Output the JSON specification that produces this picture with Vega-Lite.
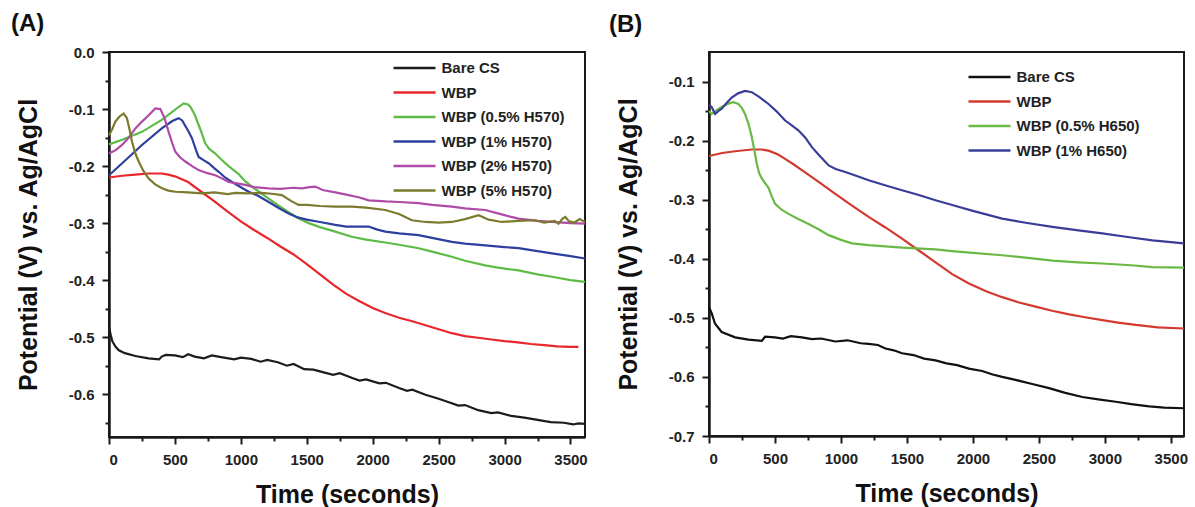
{
  "$schema": "https://vega.github.io/schema/vega-lite/v6.json",
  "padding": {"left": 10, "top": 11, "right": 10, "bottom": 2},
  "bounds": "flush",
  "spacing": 124,
  "background": "white",
  "config": {
    "font": "Liberation Sans",
    "view": {"stroke": "#1a1a1a", "strokeWidth": 2},
    "axis": {
      "grid": false,
      "domainColor": "#1a1a1a", "domainWidth": 2.5,
      "tickColor": "#1a1a1a", "tickWidth": 2,
      "labelFont": "Liberation Sans", "labelFontSize": 15, "labelFontWeight": "bold", "labelColor": "#222",
      "titleFont": "Liberation Sans", "titleFontSize": 25, "titleFontWeight": "bold", "titleColor": "#111",
      "labelPadding": 8
    },
    "legend": {
      "orient": "none", "title": null, "symbolType": "M-2,0H2", "symbolSize": 441, "symbolStrokeWidth": 2.5,
      "symbolOffset": 10.5,
      "labelFont": "Liberation Sans", "labelFontSize": 15, "labelFontWeight": "bold", "labelColor": "#222",
      "labelOffset": 15, "rowPadding": 4.5, "padding": 0, "symbolOpacity": 1
    },
    "title": {"font": "Liberation Sans", "fontSize": 24, "fontWeight": "bold", "color": "#111", "anchor": "start", "frame": "group"}
  },
  "resolve": {"scale": {"color": "independent", "x": "independent", "y": "independent"}, "legend": {"color": "independent"}},
  "hconcat": [
    {
      "width": 476, "height": 385,
      "title": {"text": "(A)", "dx": -98, "offset": 9},
      "data": {"values": [
        {"s":"Bare CS","t":0,"v":-0.482},{"s":"Bare CS","t":12,"v":-0.495},{"s":"Bare CS","t":25,"v":-0.507},{"s":"Bare CS","t":50,"v":-0.517},{"s":"Bare CS","t":75,"v":-0.523},{"s":"Bare CS","t":120,"v":-0.528},{"s":"Bare CS","t":200,"v":-0.533},{"s":"Bare CS","t":300,"v":-0.537},{"s":"Bare CS","t":380,"v":-0.539},{"s":"Bare CS","t":400,"v":-0.534},{"s":"Bare CS","t":430,"v":-0.531},{"s":"Bare CS","t":500,"v":-0.532},{"s":"Bare CS","t":560,"v":-0.535},{"s":"Bare CS","t":600,"v":-0.530},{"s":"Bare CS","t":650,"v":-0.534},{"s":"Bare CS","t":720,"v":-0.537},{"s":"Bare CS","t":780,"v":-0.532},{"s":"Bare CS","t":850,"v":-0.535},{"s":"Bare CS","t":950,"v":-0.539},{"s":"Bare CS","t":1000,"v":-0.536},{"s":"Bare CS","t":1080,"v":-0.538},{"s":"Bare CS","t":1150,"v":-0.543},{"s":"Bare CS","t":1200,"v":-0.540},{"s":"Bare CS","t":1280,"v":-0.544},{"s":"Bare CS","t":1350,"v":-0.550},{"s":"Bare CS","t":1400,"v":-0.547},{"s":"Bare CS","t":1480,"v":-0.556},{"s":"Bare CS","t":1550,"v":-0.557},{"s":"Bare CS","t":1600,"v":-0.560},{"s":"Bare CS","t":1700,"v":-0.566},{"s":"Bare CS","t":1750,"v":-0.563},{"s":"Bare CS","t":1850,"v":-0.572},{"s":"Bare CS","t":1900,"v":-0.576},{"s":"Bare CS","t":1950,"v":-0.574},{"s":"Bare CS","t":2050,"v":-0.581},{"s":"Bare CS","t":2100,"v":-0.580},{"s":"Bare CS","t":2200,"v":-0.589},{"s":"Bare CS","t":2260,"v":-0.594},{"s":"Bare CS","t":2300,"v":-0.592},{"s":"Bare CS","t":2400,"v":-0.601},{"s":"Bare CS","t":2500,"v":-0.608},{"s":"Bare CS","t":2550,"v":-0.612},{"s":"Bare CS","t":2650,"v":-0.620},{"s":"Bare CS","t":2700,"v":-0.619},{"s":"Bare CS","t":2800,"v":-0.628},{"s":"Bare CS","t":2900,"v":-0.633},{"s":"Bare CS","t":2950,"v":-0.632},{"s":"Bare CS","t":3050,"v":-0.638},{"s":"Bare CS","t":3150,"v":-0.641},{"s":"Bare CS","t":3250,"v":-0.645},{"s":"Bare CS","t":3350,"v":-0.649},{"s":"Bare CS","t":3450,"v":-0.650},{"s":"Bare CS","t":3520,"v":-0.653},{"s":"Bare CS","t":3560,"v":-0.651},{"s":"Bare CS","t":3610,"v":-0.652},
        {"s":"WBP","t":0,"v":-0.220},{"s":"WBP","t":100,"v":-0.217},{"s":"WBP","t":200,"v":-0.215},{"s":"WBP","t":300,"v":-0.213},{"s":"WBP","t":400,"v":-0.213},{"s":"WBP","t":450,"v":-0.215},{"s":"WBP","t":500,"v":-0.218},{"s":"WBP","t":600,"v":-0.228},{"s":"WBP","t":700,"v":-0.245},{"s":"WBP","t":800,"v":-0.262},{"s":"WBP","t":900,"v":-0.280},{"s":"WBP","t":1000,"v":-0.297},{"s":"WBP","t":1100,"v":-0.312},{"s":"WBP","t":1200,"v":-0.326},{"s":"WBP","t":1300,"v":-0.341},{"s":"WBP","t":1400,"v":-0.355},{"s":"WBP","t":1500,"v":-0.372},{"s":"WBP","t":1600,"v":-0.390},{"s":"WBP","t":1700,"v":-0.408},{"s":"WBP","t":1800,"v":-0.424},{"s":"WBP","t":1900,"v":-0.437},{"s":"WBP","t":2000,"v":-0.449},{"s":"WBP","t":2100,"v":-0.458},{"s":"WBP","t":2200,"v":-0.466},{"s":"WBP","t":2300,"v":-0.472},{"s":"WBP","t":2400,"v":-0.479},{"s":"WBP","t":2500,"v":-0.486},{"s":"WBP","t":2600,"v":-0.493},{"s":"WBP","t":2700,"v":-0.498},{"s":"WBP","t":2800,"v":-0.501},{"s":"WBP","t":2900,"v":-0.504},{"s":"WBP","t":3000,"v":-0.507},{"s":"WBP","t":3100,"v":-0.509},{"s":"WBP","t":3200,"v":-0.512},{"s":"WBP","t":3300,"v":-0.514},{"s":"WBP","t":3400,"v":-0.516},{"s":"WBP","t":3500,"v":-0.517},{"s":"WBP","t":3560,"v":-0.517},
        {"s":"WBP (0.5% H570)","t":0,"v":-0.162},{"s":"WBP (0.5% H570)","t":100,"v":-0.154},{"s":"WBP (0.5% H570)","t":250,"v":-0.140},{"s":"WBP (0.5% H570)","t":400,"v":-0.119},{"s":"WBP (0.5% H570)","t":480,"v":-0.105},{"s":"WBP (0.5% H570)","t":530,"v":-0.096},{"s":"WBP (0.5% H570)","t":566,"v":-0.090},{"s":"WBP (0.5% H570)","t":600,"v":-0.092},{"s":"WBP (0.5% H570)","t":620,"v":-0.097},{"s":"WBP (0.5% H570)","t":650,"v":-0.110},{"s":"WBP (0.5% H570)","t":680,"v":-0.128},{"s":"WBP (0.5% H570)","t":700,"v":-0.140},{"s":"WBP (0.5% H570)","t":730,"v":-0.160},{"s":"WBP (0.5% H570)","t":760,"v":-0.170},{"s":"WBP (0.5% H570)","t":806,"v":-0.178},{"s":"WBP (0.5% H570)","t":850,"v":-0.188},{"s":"WBP (0.5% H570)","t":907,"v":-0.200},{"s":"WBP (0.5% H570)","t":950,"v":-0.208},{"s":"WBP (0.5% H570)","t":983,"v":-0.214},{"s":"WBP (0.5% H570)","t":1030,"v":-0.226},{"s":"WBP (0.5% H570)","t":1084,"v":-0.236},{"s":"WBP (0.5% H570)","t":1150,"v":-0.247},{"s":"WBP (0.5% H570)","t":1211,"v":-0.257},{"s":"WBP (0.5% H570)","t":1290,"v":-0.270},{"s":"WBP (0.5% H570)","t":1362,"v":-0.281},{"s":"WBP (0.5% H570)","t":1440,"v":-0.292},{"s":"WBP (0.5% H570)","t":1514,"v":-0.300},{"s":"WBP (0.5% H570)","t":1600,"v":-0.307},{"s":"WBP (0.5% H570)","t":1716,"v":-0.315},{"s":"WBP (0.5% H570)","t":1842,"v":-0.324},{"s":"WBP (0.5% H570)","t":1950,"v":-0.329},{"s":"WBP (0.5% H570)","t":2095,"v":-0.334},{"s":"WBP (0.5% H570)","t":2200,"v":-0.338},{"s":"WBP (0.5% H570)","t":2348,"v":-0.344},{"s":"WBP (0.5% H570)","t":2450,"v":-0.350},{"s":"WBP (0.5% H570)","t":2600,"v":-0.359},{"s":"WBP (0.5% H570)","t":2700,"v":-0.366},{"s":"WBP (0.5% H570)","t":2853,"v":-0.374},{"s":"WBP (0.5% H570)","t":2950,"v":-0.378},{"s":"WBP (0.5% H570)","t":3106,"v":-0.383},{"s":"WBP (0.5% H570)","t":3250,"v":-0.390},{"s":"WBP (0.5% H570)","t":3359,"v":-0.394},{"s":"WBP (0.5% H570)","t":3500,"v":-0.400},{"s":"WBP (0.5% H570)","t":3610,"v":-0.403},
        {"s":"WBP (1% H570)","t":0,"v":-0.216},{"s":"WBP (1% H570)","t":100,"v":-0.195},{"s":"WBP (1% H570)","t":250,"v":-0.163},{"s":"WBP (1% H570)","t":400,"v":-0.134},{"s":"WBP (1% H570)","t":480,"v":-0.121},{"s":"WBP (1% H570)","t":528,"v":-0.116},{"s":"WBP (1% H570)","t":555,"v":-0.120},{"s":"WBP (1% H570)","t":600,"v":-0.138},{"s":"WBP (1% H570)","t":629,"v":-0.151},{"s":"WBP (1% H570)","t":660,"v":-0.172},{"s":"WBP (1% H570)","t":680,"v":-0.184},{"s":"WBP (1% H570)","t":720,"v":-0.190},{"s":"WBP (1% H570)","t":756,"v":-0.195},{"s":"WBP (1% H570)","t":800,"v":-0.204},{"s":"WBP (1% H570)","t":832,"v":-0.210},{"s":"WBP (1% H570)","t":880,"v":-0.220},{"s":"WBP (1% H570)","t":933,"v":-0.228},{"s":"WBP (1% H570)","t":1000,"v":-0.237},{"s":"WBP (1% H570)","t":1059,"v":-0.245},{"s":"WBP (1% H570)","t":1130,"v":-0.252},{"s":"WBP (1% H570)","t":1211,"v":-0.263},{"s":"WBP (1% H570)","t":1290,"v":-0.274},{"s":"WBP (1% H570)","t":1362,"v":-0.283},{"s":"WBP (1% H570)","t":1430,"v":-0.290},{"s":"WBP (1% H570)","t":1500,"v":-0.294},{"s":"WBP (1% H570)","t":1600,"v":-0.298},{"s":"WBP (1% H570)","t":1716,"v":-0.303},{"s":"WBP (1% H570)","t":1800,"v":-0.306},{"s":"WBP (1% H570)","t":1969,"v":-0.306},{"s":"WBP (1% H570)","t":2030,"v":-0.311},{"s":"WBP (1% H570)","t":2095,"v":-0.315},{"s":"WBP (1% H570)","t":2200,"v":-0.318},{"s":"WBP (1% H570)","t":2348,"v":-0.321},{"s":"WBP (1% H570)","t":2450,"v":-0.326},{"s":"WBP (1% H570)","t":2600,"v":-0.333},{"s":"WBP (1% H570)","t":2700,"v":-0.336},{"s":"WBP (1% H570)","t":2853,"v":-0.339},{"s":"WBP (1% H570)","t":3000,"v":-0.342},{"s":"WBP (1% H570)","t":3106,"v":-0.344},{"s":"WBP (1% H570)","t":3250,"v":-0.349},{"s":"WBP (1% H570)","t":3359,"v":-0.353},{"s":"WBP (1% H570)","t":3500,"v":-0.358},{"s":"WBP (1% H570)","t":3610,"v":-0.362},
        {"s":"WBP (2% H570)","t":0,"v":-0.178},{"s":"WBP (2% H570)","t":50,"v":-0.172},{"s":"WBP (2% H570)","t":99,"v":-0.163},{"s":"WBP (2% H570)","t":150,"v":-0.150},{"s":"WBP (2% H570)","t":200,"v":-0.134},{"s":"WBP (2% H570)","t":250,"v":-0.122},{"s":"WBP (2% H570)","t":301,"v":-0.111},{"s":"WBP (2% H570)","t":351,"v":-0.099},{"s":"WBP (2% H570)","t":389,"v":-0.100},{"s":"WBP (2% H570)","t":420,"v":-0.115},{"s":"WBP (2% H570)","t":452,"v":-0.140},{"s":"WBP (2% H570)","t":480,"v":-0.160},{"s":"WBP (2% H570)","t":503,"v":-0.175},{"s":"WBP (2% H570)","t":540,"v":-0.185},{"s":"WBP (2% H570)","t":579,"v":-0.192},{"s":"WBP (2% H570)","t":630,"v":-0.200},{"s":"WBP (2% H570)","t":680,"v":-0.207},{"s":"WBP (2% H570)","t":740,"v":-0.212},{"s":"WBP (2% H570)","t":806,"v":-0.216},{"s":"WBP (2% H570)","t":860,"v":-0.222},{"s":"WBP (2% H570)","t":907,"v":-0.228},{"s":"WBP (2% H570)","t":960,"v":-0.230},{"s":"WBP (2% H570)","t":1034,"v":-0.233},{"s":"WBP (2% H570)","t":1100,"v":-0.237},{"s":"WBP (2% H570)","t":1211,"v":-0.239},{"s":"WBP (2% H570)","t":1300,"v":-0.240},{"s":"WBP (2% H570)","t":1400,"v":-0.238},{"s":"WBP (2% H570)","t":1463,"v":-0.239},{"s":"WBP (2% H570)","t":1520,"v":-0.237},{"s":"WBP (2% H570)","t":1564,"v":-0.236},{"s":"WBP (2% H570)","t":1620,"v":-0.242},{"s":"WBP (2% H570)","t":1716,"v":-0.246},{"s":"WBP (2% H570)","t":1800,"v":-0.250},{"s":"WBP (2% H570)","t":1900,"v":-0.255},{"s":"WBP (2% H570)","t":1969,"v":-0.260},{"s":"WBP (2% H570)","t":2100,"v":-0.262},{"s":"WBP (2% H570)","t":2200,"v":-0.263},{"s":"WBP (2% H570)","t":2348,"v":-0.265},{"s":"WBP (2% H570)","t":2450,"v":-0.268},{"s":"WBP (2% H570)","t":2600,"v":-0.271},{"s":"WBP (2% H570)","t":2700,"v":-0.274},{"s":"WBP (2% H570)","t":2853,"v":-0.277},{"s":"WBP (2% H570)","t":2950,"v":-0.283},{"s":"WBP (2% H570)","t":3050,"v":-0.289},{"s":"WBP (2% H570)","t":3106,"v":-0.292},{"s":"WBP (2% H570)","t":3250,"v":-0.296},{"s":"WBP (2% H570)","t":3359,"v":-0.298},{"s":"WBP (2% H570)","t":3500,"v":-0.300},{"s":"WBP (2% H570)","t":3610,"v":-0.301},
        {"s":"WBP (5% H570)","t":0,"v":-0.146},{"s":"WBP (5% H570)","t":25,"v":-0.135},{"s":"WBP (5% H570)","t":48,"v":-0.122},{"s":"WBP (5% H570)","t":80,"v":-0.113},{"s":"WBP (5% H570)","t":111,"v":-0.108},{"s":"WBP (5% H570)","t":136,"v":-0.116},{"s":"WBP (5% H570)","t":155,"v":-0.135},{"s":"WBP (5% H570)","t":174,"v":-0.157},{"s":"WBP (5% H570)","t":200,"v":-0.178},{"s":"WBP (5% H570)","t":225,"v":-0.192},{"s":"WBP (5% H570)","t":260,"v":-0.208},{"s":"WBP (5% H570)","t":301,"v":-0.222},{"s":"WBP (5% H570)","t":350,"v":-0.232},{"s":"WBP (5% H570)","t":402,"v":-0.239},{"s":"WBP (5% H570)","t":450,"v":-0.243},{"s":"WBP (5% H570)","t":503,"v":-0.245},{"s":"WBP (5% H570)","t":600,"v":-0.246},{"s":"WBP (5% H570)","t":705,"v":-0.248},{"s":"WBP (5% H570)","t":800,"v":-0.246},{"s":"WBP (5% H570)","t":900,"v":-0.249},{"s":"WBP (5% H570)","t":958,"v":-0.247},{"s":"WBP (5% H570)","t":1050,"v":-0.248},{"s":"WBP (5% H570)","t":1160,"v":-0.247},{"s":"WBP (5% H570)","t":1250,"v":-0.249},{"s":"WBP (5% H570)","t":1311,"v":-0.251},{"s":"WBP (5% H570)","t":1380,"v":-0.261},{"s":"WBP (5% H570)","t":1438,"v":-0.268},{"s":"WBP (5% H570)","t":1500,"v":-0.268},{"s":"WBP (5% H570)","t":1600,"v":-0.270},{"s":"WBP (5% H570)","t":1716,"v":-0.271},{"s":"WBP (5% H570)","t":1842,"v":-0.271},{"s":"WBP (5% H570)","t":1950,"v":-0.273},{"s":"WBP (5% H570)","t":2095,"v":-0.277},{"s":"WBP (5% H570)","t":2200,"v":-0.284},{"s":"WBP (5% H570)","t":2297,"v":-0.295},{"s":"WBP (5% H570)","t":2400,"v":-0.298},{"s":"WBP (5% H570)","t":2500,"v":-0.299},{"s":"WBP (5% H570)","t":2600,"v":-0.298},{"s":"WBP (5% H570)","t":2700,"v":-0.293},{"s":"WBP (5% H570)","t":2803,"v":-0.286},{"s":"WBP (5% H570)","t":2880,"v":-0.294},{"s":"WBP (5% H570)","t":2980,"v":-0.298},{"s":"WBP (5% H570)","t":3100,"v":-0.296},{"s":"WBP (5% H570)","t":3232,"v":-0.295},{"s":"WBP (5% H570)","t":3300,"v":-0.299},{"s":"WBP (5% H570)","t":3380,"v":-0.296},{"s":"WBP (5% H570)","t":3409,"v":-0.301},{"s":"WBP (5% H570)","t":3440,"v":-0.292},{"s":"WBP (5% H570)","t":3460,"v":-0.289},{"s":"WBP (5% H570)","t":3490,"v":-0.297},{"s":"WBP (5% H570)","t":3530,"v":-0.299},{"s":"WBP (5% H570)","t":3570,"v":-0.293},{"s":"WBP (5% H570)","t":3610,"v":-0.298}
      ]},
      "mark": {"type": "line", "strokeWidth": 2.2},
      "encoding": {
        "x": {"field": "t", "type": "quantitative", "scale": {"domain": [0, 3610], "nice": false, "zero": false},
          "axis": {"title": "Time (seconds)", "titlePadding": 15,
            "values": [0,250,500,750,1000,1250,1500,1750,2000,2250,2500,2750,3000,3250,3500],
            "labelExpr": "datum.value % 500 == 0 ? datum.value + '' : ''",
            "tickSize": {"condition": {"test": "datum.value % 500 == 0", "value": 7}, "value": 4}}},
        "y": {"field": "v", "type": "quantitative", "scale": {"domain": [-0.675, 0], "nice": false, "zero": false},
          "axis": {"title": "Potential (V) vs. Ag/AgCl", "titlePadding": 27,
            "values": [-0.65,-0.6,-0.55,-0.5,-0.45,-0.4,-0.35,-0.3,-0.25,-0.2,-0.15,-0.1,-0.05,0],
            "labelExpr": "abs(datum.value*10 - round(datum.value*10)) < 0.001 ? replace(format(datum.value, '.1f'), '\u2212', '-') : ''",
            "tickSize": {"condition": {"test": "abs(datum.value*10 - round(datum.value*10)) < 0.001", "value": 7}, "value": 4}}},
        "color": {"field": "s", "type": "nominal",
          "scale": {"domain": ["Bare CS","WBP","WBP (0.5% H570)","WBP (1% H570)","WBP (2% H570)","WBP (5% H570)"],
                    "range": ["#1c1c1c","#e8262b","#5dbb46","#2e3f9e","#b04aa8","#7b7a2e"]},
          "legend": {"legendX": 283, "legendY": 4}},
        "order": {"field": "t", "type": "quantitative"}
      }
    },
    {
      "width": 475, "height": 384,
      "title": {"text": "(B)", "dx": -100, "offset": 15},
      "data": {"values": [
        {"s":"Bare CS","t":0,"v":-0.482},{"s":"Bare CS","t":20,"v":-0.492},{"s":"Bare CS","t":46,"v":-0.510},{"s":"Bare CS","t":96,"v":-0.524},{"s":"Bare CS","t":198,"v":-0.533},{"s":"Bare CS","t":300,"v":-0.537},{"s":"Bare CS","t":400,"v":-0.539},{"s":"Bare CS","t":425,"v":-0.532},{"s":"Bare CS","t":500,"v":-0.533},{"s":"Bare CS","t":560,"v":-0.535},{"s":"Bare CS","t":620,"v":-0.531},{"s":"Bare CS","t":704,"v":-0.533},{"s":"Bare CS","t":780,"v":-0.536},{"s":"Bare CS","t":850,"v":-0.535},{"s":"Bare CS","t":957,"v":-0.540},{"s":"Bare CS","t":1050,"v":-0.538},{"s":"Bare CS","t":1150,"v":-0.543},{"s":"Bare CS","t":1210,"v":-0.544},{"s":"Bare CS","t":1280,"v":-0.546},{"s":"Bare CS","t":1337,"v":-0.552},{"s":"Bare CS","t":1400,"v":-0.555},{"s":"Bare CS","t":1463,"v":-0.560},{"s":"Bare CS","t":1550,"v":-0.563},{"s":"Bare CS","t":1630,"v":-0.569},{"s":"Bare CS","t":1717,"v":-0.572},{"s":"Bare CS","t":1800,"v":-0.577},{"s":"Bare CS","t":1880,"v":-0.580},{"s":"Bare CS","t":1970,"v":-0.586},{"s":"Bare CS","t":2070,"v":-0.590},{"s":"Bare CS","t":2150,"v":-0.596},{"s":"Bare CS","t":2222,"v":-0.600},{"s":"Bare CS","t":2323,"v":-0.605},{"s":"Bare CS","t":2450,"v":-0.612},{"s":"Bare CS","t":2577,"v":-0.619},{"s":"Bare CS","t":2700,"v":-0.627},{"s":"Bare CS","t":2830,"v":-0.634},{"s":"Bare CS","t":2950,"v":-0.638},{"s":"Bare CS","t":3083,"v":-0.642},{"s":"Bare CS","t":3200,"v":-0.646},{"s":"Bare CS","t":3336,"v":-0.650},{"s":"Bare CS","t":3450,"v":-0.652},{"s":"Bare CS","t":3600,"v":-0.653},
        {"s":"WBP","t":0,"v":-0.226},{"s":"WBP","t":100,"v":-0.221},{"s":"WBP","t":197,"v":-0.218},{"s":"WBP","t":324,"v":-0.215},{"s":"WBP","t":400,"v":-0.215},{"s":"WBP","t":451,"v":-0.217},{"s":"WBP","t":520,"v":-0.223},{"s":"WBP","t":577,"v":-0.231},{"s":"WBP","t":640,"v":-0.240},{"s":"WBP","t":704,"v":-0.250},{"s":"WBP","t":831,"v":-0.270},{"s":"WBP","t":957,"v":-0.290},{"s":"WBP","t":1084,"v":-0.310},{"s":"WBP","t":1210,"v":-0.329},{"s":"WBP","t":1337,"v":-0.347},{"s":"WBP","t":1463,"v":-0.366},{"s":"WBP","t":1590,"v":-0.386},{"s":"WBP","t":1717,"v":-0.406},{"s":"WBP","t":1843,"v":-0.426},{"s":"WBP","t":1970,"v":-0.442},{"s":"WBP","t":2100,"v":-0.455},{"s":"WBP","t":2222,"v":-0.465},{"s":"WBP","t":2350,"v":-0.474},{"s":"WBP","t":2475,"v":-0.481},{"s":"WBP","t":2600,"v":-0.488},{"s":"WBP","t":2729,"v":-0.494},{"s":"WBP","t":2850,"v":-0.499},{"s":"WBP","t":2981,"v":-0.504},{"s":"WBP","t":3100,"v":-0.508},{"s":"WBP","t":3235,"v":-0.512},{"s":"WBP","t":3400,"v":-0.516},{"s":"WBP","t":3600,"v":-0.518},
        {"s":"WBP (0.5% H650)","t":0,"v":-0.150},{"s":"WBP (0.5% H650)","t":20,"v":-0.155},{"s":"WBP (0.5% H650)","t":60,"v":-0.148},{"s":"WBP (0.5% H650)","t":96,"v":-0.143},{"s":"WBP (0.5% H650)","t":150,"v":-0.137},{"s":"WBP (0.5% H650)","t":185,"v":-0.135},{"s":"WBP (0.5% H650)","t":223,"v":-0.138},{"s":"WBP (0.5% H650)","t":250,"v":-0.145},{"s":"WBP (0.5% H650)","t":273,"v":-0.155},{"s":"WBP (0.5% H650)","t":300,"v":-0.172},{"s":"WBP (0.5% H650)","t":324,"v":-0.194},{"s":"WBP (0.5% H650)","t":345,"v":-0.218},{"s":"WBP (0.5% H650)","t":362,"v":-0.239},{"s":"WBP (0.5% H650)","t":380,"v":-0.255},{"s":"WBP (0.5% H650)","t":400,"v":-0.264},{"s":"WBP (0.5% H650)","t":425,"v":-0.272},{"s":"WBP (0.5% H650)","t":451,"v":-0.280},{"s":"WBP (0.5% H650)","t":475,"v":-0.294},{"s":"WBP (0.5% H650)","t":501,"v":-0.307},{"s":"WBP (0.5% H650)","t":550,"v":-0.317},{"s":"WBP (0.5% H650)","t":603,"v":-0.324},{"s":"WBP (0.5% H650)","t":680,"v":-0.333},{"s":"WBP (0.5% H650)","t":755,"v":-0.341},{"s":"WBP (0.5% H650)","t":830,"v":-0.350},{"s":"WBP (0.5% H650)","t":907,"v":-0.360},{"s":"WBP (0.5% H650)","t":1000,"v":-0.368},{"s":"WBP (0.5% H650)","t":1084,"v":-0.374},{"s":"WBP (0.5% H650)","t":1210,"v":-0.377},{"s":"WBP (0.5% H650)","t":1463,"v":-0.381},{"s":"WBP (0.5% H650)","t":1717,"v":-0.384},{"s":"WBP (0.5% H650)","t":1843,"v":-0.387},{"s":"WBP (0.5% H650)","t":2000,"v":-0.390},{"s":"WBP (0.5% H650)","t":2222,"v":-0.394},{"s":"WBP (0.5% H650)","t":2400,"v":-0.398},{"s":"WBP (0.5% H650)","t":2602,"v":-0.403},{"s":"WBP (0.5% H650)","t":2800,"v":-0.406},{"s":"WBP (0.5% H650)","t":2981,"v":-0.408},{"s":"WBP (0.5% H650)","t":3200,"v":-0.411},{"s":"WBP (0.5% H650)","t":3361,"v":-0.414},{"s":"WBP (0.5% H650)","t":3600,"v":-0.415},
        {"s":"WBP (1% H650)","t":0,"v":-0.140},{"s":"WBP (1% H650)","t":20,"v":-0.143},{"s":"WBP (1% H650)","t":46,"v":-0.155},{"s":"WBP (1% H650)","t":70,"v":-0.150},{"s":"WBP (1% H650)","t":96,"v":-0.146},{"s":"WBP (1% H650)","t":130,"v":-0.137},{"s":"WBP (1% H650)","t":172,"v":-0.127},{"s":"WBP (1% H650)","t":220,"v":-0.120},{"s":"WBP (1% H650)","t":273,"v":-0.116},{"s":"WBP (1% H650)","t":324,"v":-0.118},{"s":"WBP (1% H650)","t":380,"v":-0.126},{"s":"WBP (1% H650)","t":451,"v":-0.138},{"s":"WBP (1% H650)","t":510,"v":-0.150},{"s":"WBP (1% H650)","t":577,"v":-0.166},{"s":"WBP (1% H650)","t":620,"v":-0.173},{"s":"WBP (1% H650)","t":679,"v":-0.183},{"s":"WBP (1% H650)","t":730,"v":-0.195},{"s":"WBP (1% H650)","t":780,"v":-0.211},{"s":"WBP (1% H650)","t":840,"v":-0.226},{"s":"WBP (1% H650)","t":907,"v":-0.242},{"s":"WBP (1% H650)","t":960,"v":-0.248},{"s":"WBP (1% H650)","t":1033,"v":-0.253},{"s":"WBP (1% H650)","t":1120,"v":-0.260},{"s":"WBP (1% H650)","t":1210,"v":-0.267},{"s":"WBP (1% H650)","t":1340,"v":-0.276},{"s":"WBP (1% H650)","t":1463,"v":-0.284},{"s":"WBP (1% H650)","t":1590,"v":-0.292},{"s":"WBP (1% H650)","t":1717,"v":-0.301},{"s":"WBP (1% H650)","t":1843,"v":-0.309},{"s":"WBP (1% H650)","t":2000,"v":-0.319},{"s":"WBP (1% H650)","t":2222,"v":-0.332},{"s":"WBP (1% H650)","t":2400,"v":-0.339},{"s":"WBP (1% H650)","t":2602,"v":-0.346},{"s":"WBP (1% H650)","t":2800,"v":-0.352},{"s":"WBP (1% H650)","t":2981,"v":-0.357},{"s":"WBP (1% H650)","t":3200,"v":-0.364},{"s":"WBP (1% H650)","t":3361,"v":-0.369},{"s":"WBP (1% H650)","t":3600,"v":-0.374}
      ]},
      "mark": {"type": "line", "strokeWidth": 2.2},
      "encoding": {
        "x": {"field": "t", "type": "quantitative", "scale": {"domain": [0, 3600], "nice": false, "zero": false},
          "axis": {"title": "Time (seconds)", "titlePadding": 15,
            "values": [0,250,500,750,1000,1250,1500,1750,2000,2250,2500,2750,3000,3250,3500],
            "labelExpr": "datum.value % 500 == 0 ? datum.value + '' : ''",
            "tickSize": {"condition": {"test": "datum.value % 500 == 0", "value": 7}, "value": 4}}},
        "y": {"field": "v", "type": "quantitative", "scale": {"domain": [-0.7, -0.05], "nice": false, "zero": false},
          "axis": {"title": "Potential (V) vs. Ag/AgCl", "titlePadding": 27,
            "values": [-0.7,-0.65,-0.6,-0.55,-0.5,-0.45,-0.4,-0.35,-0.3,-0.25,-0.2,-0.15,-0.1],
            "labelExpr": "abs(datum.value*10 - round(datum.value*10)) < 0.001 ? replace(format(datum.value, '.1f'), '\u2212', '-') : ''",
            "tickSize": {"condition": {"test": "abs(datum.value*10 - round(datum.value*10)) < 0.001", "value": 7}, "value": 4}}},
        "color": {"field": "s", "type": "nominal",
          "scale": {"domain": ["Bare CS","WBP","WBP (0.5% H650)","WBP (1% H650)"],
                    "range": ["#111111","#d33a2f","#6ab945","#3a3d97"]},
          "legend": {"legendX": 258, "legendY": 13}},
        "order": {"field": "t", "type": "quantitative"}
      }
    }
  ]
}
